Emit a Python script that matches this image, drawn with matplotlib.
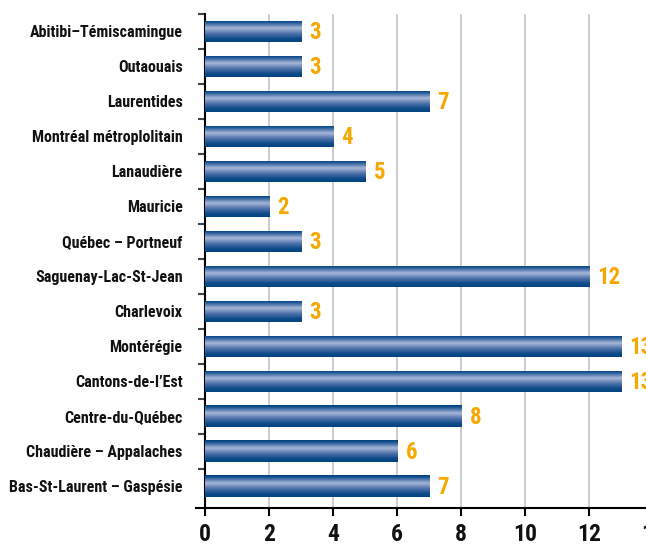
import numpy as np
import matplotlib
matplotlib.use("Agg")
import matplotlib.pyplot as plt
from matplotlib.colors import LinearSegmentedColormap
from matplotlib.ticker import FixedLocator

regions = ["Abitibi–Témiscamingue", "Outaouais", "Laurentides", "Montréal métroplolitain",
           "Lanaudière", "Mauricie", "Québec – Portneuf", "Saguenay-Lac-St-Jean",
           "Charlevoix", "Montérégie", "Cantons-de-l’Est", "Centre-du-Québec",
           "Chaudière – Appalaches", "Bas-St-Laurent – Gaspésie"]
values = [3, 3, 7, 4, 5, 2, 3, 12, 3, 13, 13, 8, 6, 7]
xticks = [0, 2, 4, 6, 8, 10, 12, 14]

plt.rcParams['font.family'] = ['Roboto Condensed', 'DejaVu Sans']

fig = plt.figure(figsize=(6.46, 5.44), dpi=100)
ax = fig.add_axes([196/646, 36/544, 457/646, 494/544])

y = np.arange(len(regions))
h = 0.62
bars = ax.barh(y, values, height=h, color="#0b4a88", zorder=2)

cmap = LinearSegmentedColormap.from_list("bar", [
    (0.0, "#003f7d"), (0.1, "#1d5593"), (0.36, "#a8b7d9"),
    (0.62, "#4d70a9"), (0.85, "#0d4b89"), (1.0, "#004480")])
grad = np.linspace(0, 1, 64).reshape(-1, 1)
for b, yy, v in zip(bars, y, values):
    im = ax.imshow(grad, cmap=cmap, aspect='auto', interpolation='bilinear',
                   extent=[0, v, yy + h/2, yy - h/2], zorder=3)
    im.set_clip_path(b)
    ax.text(v + 0.27, yy + 0.03, str(v), va='center', ha='left', color="#f6a800",
            fontsize=16.5, fontweight='bold', zorder=4, clip_on=False)

ax.set_xlim(-0.28, 14)
ax.set_ylim(13.62, -0.5)
ax.spines['left'].set_position(('data', 0))
for s in ['top', 'right']:
    ax.spines[s].set_visible(False)
ax.spines['left'].set_linewidth(1.5)
ax.spines['bottom'].set_linewidth(1.5)

ax.set_yticks(y)
ax.set_yticklabels(regions, fontsize=11.5, color="#111111", fontweight='semibold')
ax.tick_params(axis='y', which='major', length=0, pad=16)
ax.yaxis.set_minor_locator(FixedLocator(np.arange(-0.5, 13, 1.0)))
ax.tick_params(axis='y', which='minor', length=5, width=1.5, color="#444444", direction='out')

ax.set_xticks(xticks)
ax.set_xticklabels([str(t) for t in xticks], fontsize=17, fontweight='bold', color="#111111")
ax.tick_params(axis='x', length=6, width=1.5, direction='out', pad=5)
ax.grid(axis='x', color="#c4c4c4", linewidth=1.2, zorder=0)
ax.set_axisbelow(True)

fig.savefig("out.png", dpi=100)
